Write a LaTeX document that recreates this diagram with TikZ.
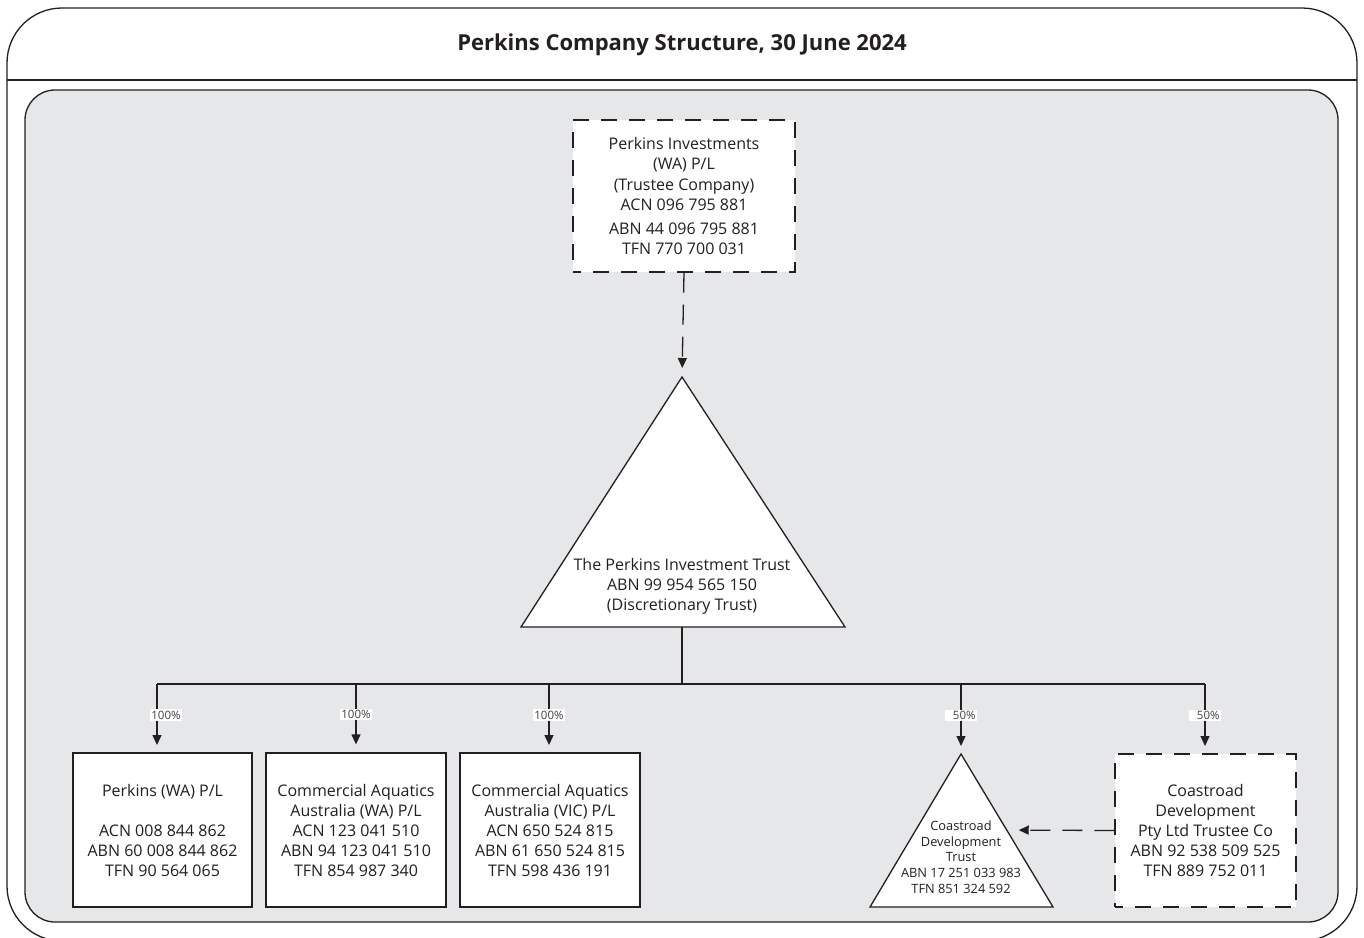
\documentclass[tikz,border=0pt]{standalone}
\usepackage{fontspec}
\setmainfont{Open Sans}
\usetikzlibrary{arrows.meta,calc}
\definecolor{panel}{HTML}{E6E7E8}
\definecolor{ink}{HTML}{231F20}
\begin{document}
\begin{tikzpicture}[x=1pt,y=-1pt,
  every node/.style={text=ink},
  body/.style={font=\fontsize{16}{20}\selectfont, align=center},
  entity/.style={body, draw=ink, line width=1.3pt, fill=white, minimum width=179pt, minimum height=154pt, inner sep=0pt},
  trustee/.style={entity, dash pattern=on 16pt off 12pt, dash phase=8pt},
  tri/.style={draw=ink, line width=1.3pt, fill=white, line join=miter},
  link/.style={draw=ink, line width=1.3pt},
  arr/.style={link, -{Triangle[length=10pt,width=9pt]}},
  dlink/.style={arr, dash pattern=on 20pt off 12pt},
  pct/.style={fill=white, font=\fontsize{11.5}{11.5}\selectfont, inner sep=1.5pt, text=ink!85}
]
\useasboundingbox (0,0) rectangle (1364,937);
\clip (0,0) rectangle (1364,937);
% frames
\draw[ink, line width=1.3pt, rounded corners=55pt] (7,8) rectangle (1357,941);
\draw[ink, line width=1.3pt] (7,80) -- (1357,80);
\node[font=\bfseries\fontsize{22}{24}\selectfont] (title) at (682,45) {Perkins Company Structure, 30 June 2024};
\draw[ink, line width=1.3pt, fill=panel, rounded corners=30pt] (25,90) rectangle (1338,922);

% top trustee company
\node[trustee, minimum width=222pt, minimum height=152pt] (pi) at (684,196) {Perkins Investments\\(WA) P/L\\[1pt](Trustee Company)\\ACN 096 795 881\\[4pt]ABN 44 096 795 881\\TFN 770 700 031};

% big trust triangle
\coordinate (tapex) at (682,377);
\coordinate (tbl) at (521,627);
\coordinate (tbr) at (845,627);
\coordinate (tbase) at (682,627);
\path[tri] (tapex) -- (tbr) -- (tbl) -- cycle;
\node[body] (trust) at (682,586) {The Perkins Investment Trust\\ABN 99 954 565 150\\(Discretionary Trust)};
\draw[dlink, shorten >=9pt] (pi.south) -- (tapex);

% bottom entities
\node[entity] (p1) at (162.5,830) {Perkins (WA) P/L\\[20pt]ACN 008 844 862\\ABN 60 008 844 862\\TFN 90 564 065};
\node[entity, minimum width=180pt] (p2) at (356,830) {Commercial Aquatics\\Australia (WA) P/L\\ACN 123 041 510\\ABN 94 123 041 510\\TFN 854 987 340};
\node[entity, minimum width=180pt] (p3) at (550,830) {Commercial Aquatics\\Australia (VIC) P/L\\ACN 650 524 815\\ABN 61 650 524 815\\TFN 598 436 191};
\node[trustee, minimum width=181pt, minimum height=153pt] (cd) at (1205.5,830.5) {Coastroad\\Development\\Pty Ltd Trustee Co\\ABN 92 538 509 525\\TFN 889 752 011};

% small trust triangle
\coordinate (sapex) at (961,754);
\coordinate (sbl) at (870,907);
\coordinate (sbr) at (1053,907);
\path[tri] (sapex) -- (sbr) -- (sbl) -- cycle;
\node[font=\fontsize{12.8}{15.8}\selectfont, align=center] (ctrust) at (961,857) {Coastroad\\Development\\Trust\\ABN 17 251 033 983\\TFN 851 324 592};
\coordinate (sright) at ($(sapex)!0.497!(sbr)$);
\draw[dlink, shorten >=12pt] (cd.west) -- (sright);

% ownership bus
\coordinate (bus) at (682,684);
\draw[link] (tbase) -- (bus);
\draw[link] (157,684) -- (1205,684);
\draw[arr, shorten >=8pt] (157,684) -- (157,753) node[pct, pos=0.45, xshift=9pt] {100\%};
\draw[arr, shorten >=8pt] (356,684) -- (p2.north) node[pct, pos=0.45] {100\%};
\draw[arr, shorten >=8pt] (549,684) -- (549,753) node[pct, pos=0.45] {100\%};
\draw[arr, shorten >=8pt] (961,684) -- (sapex) node[pct, pos=0.45] {\phantom{0}50\%};
\draw[arr, shorten >=8pt] (1205,684) -- (1205,754) node[pct, pos=0.45] {\phantom{0}50\%};
\end{tikzpicture}
\end{document}
